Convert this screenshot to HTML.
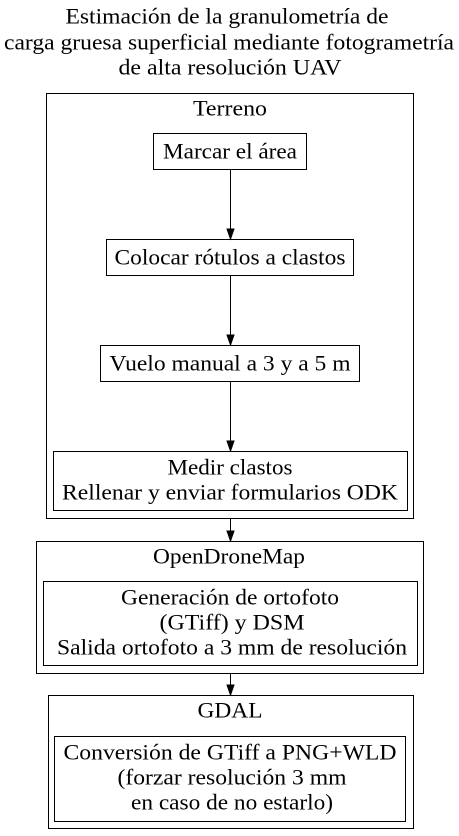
<!DOCTYPE html>
<html><head><meta charset="utf-8"><style>
html,body{margin:0;padding:0;background:#fff;}
svg{display:block;}
text{font-family:"Liberation Serif",serif;font-size:22px;fill:#000;}
</style></head><body>
<svg width="459" height="836" viewBox="0 0 459 836" xmlns="http://www.w3.org/2000/svg">
<g text-anchor="middle" dominant-baseline="central">
<text x="227" y="16" textLength="323" lengthAdjust="spacingAndGlyphs">Estimación de la granulometría de</text>
<text x="229" y="42" textLength="450" lengthAdjust="spacingAndGlyphs">carga gruesa superficial mediante fotogrametría</text>
<text x="230" y="67" textLength="223" lengthAdjust="spacingAndGlyphs">de alta resolución UAV</text>
</g>
<g fill="none" stroke="#000" stroke-width="1">
<rect x="46.5" y="93.5" width="367" height="425"/>
<rect x="153.5" y="133.5" width="153" height="36"/>
<rect x="106.5" y="239.5" width="247" height="36"/>
<rect x="100.5" y="345.5" width="259" height="36"/>
<rect x="53.5" y="451.5" width="354" height="59"/>
<rect x="36.5" y="541.5" width="387" height="132"/>
<rect x="43.5" y="581.5" width="374" height="84"/>
<rect x="48.5" y="695.5" width="365" height="133"/>
<rect x="54.5" y="736.5" width="351" height="85"/>
<path d="M230.5 169.5V229 M230.5 275.5V335 M230.5 381.5V441 M230.5 518.5V531 M230.5 673.5V685"/>
</g>
<g fill="#000" stroke="#000">
<path d="M227 229L234 229L230.5 239Z"/>
<path d="M227 335L234 335L230.5 345Z"/>
<path d="M227 441L234 441L230.5 451Z"/>
<path d="M227 531L234 531L230.5 541Z"/>
<path d="M227 685L234 685L230.5 695Z"/>
</g>
<g text-anchor="middle" dominant-baseline="central">
<text x="230" y="108" textLength="74" lengthAdjust="spacingAndGlyphs">Terreno</text>
<text x="230" y="151" textLength="134" lengthAdjust="spacingAndGlyphs">Marcar el área</text>
<text x="230" y="257" textLength="231" lengthAdjust="spacingAndGlyphs">Colocar rótulos a clastos</text>
<text x="230" y="363" textLength="241" lengthAdjust="spacingAndGlyphs">Vuelo manual a 3 y a 5 m</text>
<text x="230" y="467" textLength="125" lengthAdjust="spacingAndGlyphs">Medir clastos</text>
<text x="230" y="492" textLength="336" lengthAdjust="spacingAndGlyphs">Rellenar y enviar formularios ODK</text>
<text x="229" y="556" textLength="152" lengthAdjust="spacingAndGlyphs">OpenDroneMap</text>
<text x="230" y="597" textLength="218" lengthAdjust="spacingAndGlyphs">Generación de ortofoto</text>
<text x="232" y="622" textLength="145" lengthAdjust="spacingAndGlyphs">(GTiff) y DSM</text>
<text x="232" y="647" textLength="350" lengthAdjust="spacingAndGlyphs">Salida ortofoto a 3 mm de resolución</text>
<text x="230" y="710" textLength="65" lengthAdjust="spacingAndGlyphs">GDAL</text>
<text x="230" y="752" textLength="333" lengthAdjust="spacingAndGlyphs">Conversión de GTiff a PNG+WLD</text>
<text x="232" y="777" textLength="229" lengthAdjust="spacingAndGlyphs">(forzar resolución 3 mm</text>
<text x="232" y="802" textLength="202" lengthAdjust="spacingAndGlyphs">en caso de no estarlo)</text>
</g>
</svg>
</body></html>
